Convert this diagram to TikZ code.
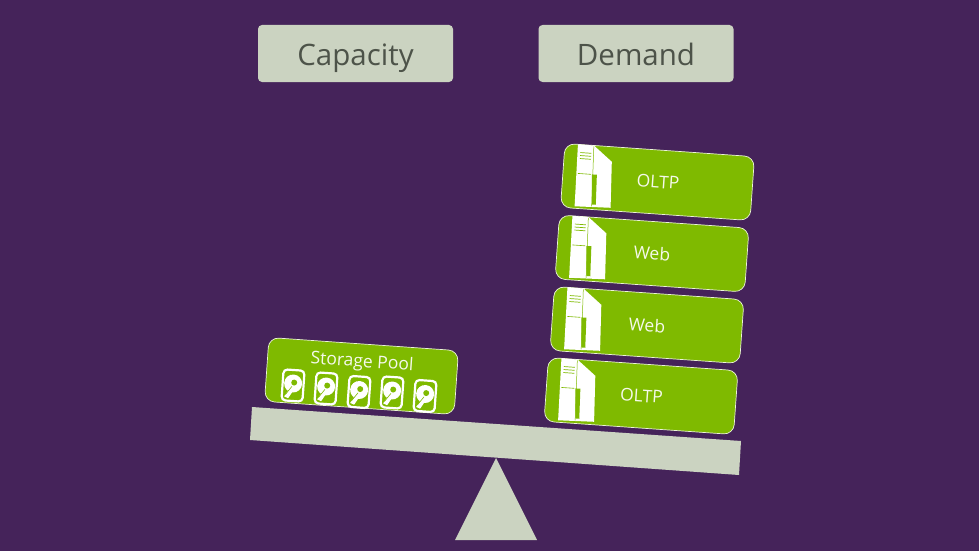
\documentclass[tikz,border=0pt]{standalone}
\usepackage{fontspec}
\setmainfont{Open Sans}
\definecolor{bgp}{HTML}{45235A}
\definecolor{sage}{HTML}{CBD3C1}
\definecolor{grn}{HTML}{7FBA00}
\definecolor{inkc}{HTML}{4D5349}
\tikzset{
  x=1pt,y=-1pt,
  headbox/.style={fill=sage,draw=none,rounded corners=4pt,minimum width=195pt,minimum height=57pt,text=inkc,inner sep=0pt,text height=29pt,text depth=6pt,font=\fontsize{29.5}{34}\selectfont},
  card/.style={fill=grn,draw=white!85!grn,line width=.7pt,rounded corners=10pt,minimum width=190pt,minimum height=64pt,inner sep=0pt,rotate=-4},
  cardlabel/.style={text=white!92!grn,inner sep=0pt,font=\fontsize{17.5}{20}\selectfont,rotate=-4},
  pics/server/.style={code={
    \fill[white] (-82,-32) -- (-66,-32) -- (-47,-17) -- (-45,29) -- (-81,30) -- cycle;
    \draw[grn,line width=.5pt] (-66,-31) -- (-64,29);
    \draw[grn,line width=.7pt] (-79,-24) -- (-68,-24) (-79,-21) -- (-68,-21) (-79,-18) -- (-68,-18);
    \draw[grn,line width=.6pt] (-80,-3) -- (-67,-3);
    \fill[grn] (-66,-3) -- (-61,-3) -- (-60,27) -- (-64,27) -- cycle;
  }},
  pics/disc/.style={code={
    \draw[white,line width=2.2pt,rounded corners=4pt] (-10.5,-15.5) rectangle (10.5,15.5);
    \fill[white] (0,-2) circle (9);
    \fill[white] (-8,11.5) -- (-4,13) -- (3,1) -- (-1,-1) -- cycle;
    \fill[grn] (1,-3) circle (3);
    \draw[grn,line width=.6pt] (-7,9.5) -- (-1,1);
  }}
}
\begin{document}
\begin{tikzpicture}
\useasboundingbox (0,0) rectangle (979,551);
\fill[bgp] (0,0) rectangle (979,551);
% headers
\node[headbox] (capacity) at (355.5,53.5) {Capacity};
\node[headbox] (demand) at (636,53.5) {Demand};
% beam and fulcrum
\fill[sage] (455,540) -- (496,458) -- (537,540) -- cycle;
\fill[sage] (252,407) -- (741,441) -- (739,475) -- (250,440) -- cycle;
% cards
\node[card] (c1) at (657.5,182) {};
\node[card] (c2) at (652,253.5) {};
\node[card] (c3) at (647,325) {};
\node[card] (c4) at (641,396) {};
\node[card] (c5) at (361.5,376) {};
\pic[rotate=-4] at (657.5,182) {server};
\pic[rotate=-4] at (652,253.5) {server};
\pic[rotate=-4] at (647,325) {server};
\pic[rotate=-4] at (641,396) {server};
\node[cardlabel] (t1) at (658,182) {OLTP};
\node[cardlabel] (t2) at (652,253.5) {Web};
\node[cardlabel] (t3) at (647,325) {Web};
\node[cardlabel] (t4) at (641.5,396) {OLTP};
\node[cardlabel] (t5) at (362,362.5) {Storage Pool};
\foreach \a/\b in {293/385.5,326/388.5,359/392,392/392.5,425/396}{
  \pic[rotate=-4] at (\a,\b) {disc};
}
\end{tikzpicture}
\end{document}
